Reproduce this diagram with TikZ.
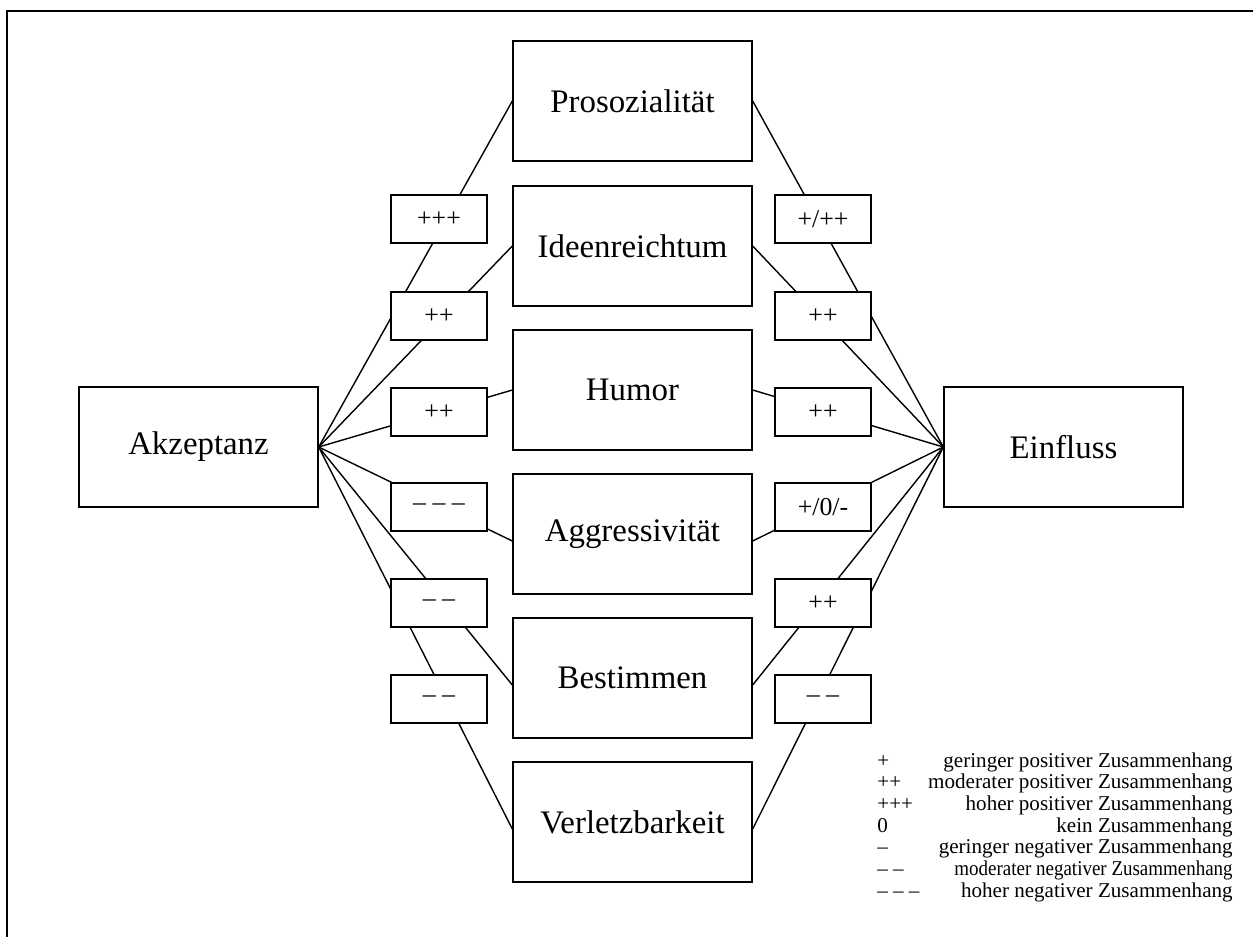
\documentclass[tikz,border=0pt]{standalone}
\usepackage{fontspec}
\setmainfont{Liberation Serif}
\usepackage{tikz}

\begin{document}
\begin{tikzpicture}[x=0.02cm, y=-0.02cm,
    box/.style={shape=rectangle, draw, line width=0.8pt, fill=white, inner sep=0pt,
      minimum width=4.78cm, minimum height=2.4cm, font=\fontsize{18.7}{22}\selectfont},
    val/.style={shape=rectangle, draw, line width=0.8pt, fill=white, inner sep=0pt,
      minimum width=1.92cm, minimum height=0.96cm, font=\fontsize{14.7}{17}\selectfont},
    link/.style={line width=0.8pt},
    key/.style={inner sep=0pt, font=\fontsize{12}{14}\selectfont}]
    \useasboundingbox (0,0) rectangle (1253,937);
    % frame
    \draw[line width=1.2pt] (7,937) -- (7,11) -- (1253,11);

    \node[box] (akz) at (198.5,447) {Akzeptanz};
    \node[box] (einf) at (1063.5,447) {Einfluss};
    \node[box] (pros) at (632.5,101) {Prosozialität};
    \node[box] (ideen) at (632.5,246) {Ideenreichtum};
    \node[box] (humor) at (632.5,390) {Humor};
    \node[box] (aggr) at (632.5,534) {Aggressivität};
    \node[box] (best) at (632.5,678) {Bestimmen};
    \node[box] (verl) at (632.5,822) {Verletzbarkeit};

    \foreach \m in {pros,ideen,humor} {
      \draw[link] (akz.east) -- (\m.west);
      \draw[link] (einf.west) -- (\m.east);
    }
    \foreach \m in {aggr,best,verl} {
      \draw[link] (akz.east) -- ([yshift=-0.14cm]\m.west);
      \draw[link] (einf.west) -- ([yshift=-0.14cm]\m.east);
    }

    % values, Akzeptanz side
    \node[val] (la) at (439,219) {+++};
    \node[val] (lb) at (439,316) {++};
    \node[val] (lc) at (439,412) {++};
    \node[val] (ld) at (439,507) {– – –};
    \node[val] (le) at (439,603) {– –};
    \node[val] (lf) at (439,699) {– –};
    % values, Einfluss side
    \node[val] (ra) at (823,219) {+/++};
    \node[val] (rb) at (823,316) {++};
    \node[val] (rc) at (823,412) {++};
    \node[val] (rd) at (823,507) {+/0/-};
    \node[val] (re) at (823,603) {++};
    \node[val] (rf) at (823,699) {– –};

    % legend
    \foreach \s/\t [count=\i] in {+/geringer positiver Zusammenhang,
        ++/moderater positiver Zusammenhang,
        +++/hoher positiver Zusammenhang,
        0/kein Zusammenhang,
        –/geringer negativer Zusammenhang,
        – –/{\scalebox{0.9}[1]{moderater negativer Zusammenhang}},
        – – –/hoher negativer Zusammenhang} {
      \node[key, anchor=base west] (sym\i) at (877,745.3+21.7*\i) {\s};
      \node[key, anchor=base east] (txt\i) at (1233,745.3+21.7*\i) {\t};
    }
\end{tikzpicture}
\end{document}
